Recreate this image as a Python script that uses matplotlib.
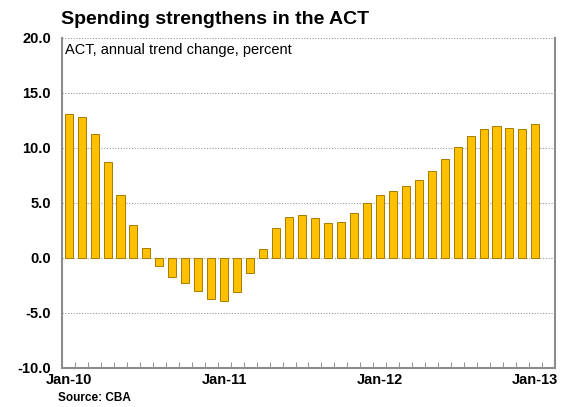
import matplotlib.pyplot as plt
import numpy as np

plt.rcParams['font.family'] = ['Liberation Sans', 'DejaVu Sans']

# ACT annual trend change in spending, monthly Jan-10 .. Jan-13
values = [13.1, 12.8, 11.3, 8.7, 5.7, 3.0, 0.9, -0.7, -1.7, -2.3, -3.0, -3.7,
          -3.9, -3.1, -1.4, 0.8, 2.7, 3.7, 3.9, 3.6, 3.2, 3.3, 4.05, 5.0,
          5.7, 6.05, 6.5, 7.05, 7.9, 8.95, 10.1, 11.1, 11.7, 11.95, 11.85, 11.7,
          12.2]
tick_pos = [0, 12, 24, 36]
tick_labels = ['Jan-10', 'Jan-11', 'Jan-12', 'Jan-13']

fig = plt.figure(figsize=(5.65, 4.07), dpi=100)
ax = fig.add_axes([0.110, 0.096, 0.872, 0.811])

x = np.arange(len(values))
ax.bar(x, values, width=0.62, color='#FFC000', edgecolor='#A67C00', linewidth=0.7, zorder=3)

ax.set_xlim(-0.5, len(values) - 0.5 + 1)
ax.set_ylim(-10, 20)
ax.set_yticks(np.arange(-10, 21, 5))
ax.set_yticklabels([f'{v:.1f}' for v in np.arange(-10, 21, 5)], fontweight='bold', fontsize=10.5)
ax.yaxis.grid(True, linestyle=(0, (1, 1.5)), color='#999999', linewidth=0.8, zorder=0)
ax.tick_params(axis='y', length=0, pad=8)

ax.set_xticks(tick_pos)
ax.set_xticklabels(tick_labels, fontweight='bold', fontsize=10.5)
ax.set_xticks(np.arange(-0.5, len(values) + 0.5, 1), minor=True)
ax.tick_params(axis='x', which='major', length=0, pad=4)
ax.tick_params(axis='x', which='minor', direction='in', length=4, color='#808080')

for s in ['left', 'right', 'bottom']:
    ax.spines[s].set_color('#8c8c8c')
    ax.spines[s].set_linewidth(1.5)
ax.spines['top'].set_visible(False)

ax.text(0.006, 0.985, 'ACT, annual trend change, percent', transform=ax.transAxes,
        ha='left', va='top', fontsize=10.5)
fig.text(0.108, 0.972, 'Spending strengthens in the ACT', ha='left', va='top',
         fontsize=14, fontweight='bold')
fig.text(0.103, 0.008, 'Source: CBA', ha='left', va='bottom', fontsize=8.5, fontweight='bold')

fig.savefig('out.png', dpi=100)
